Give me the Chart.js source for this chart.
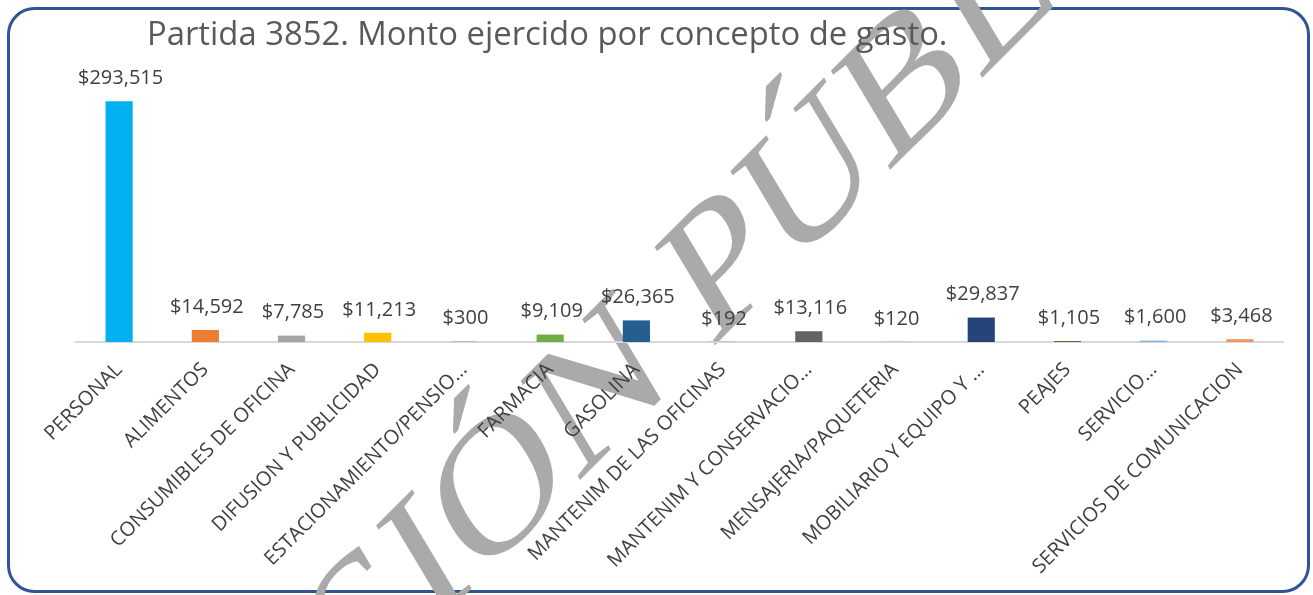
<!DOCTYPE html>
<html>
<head>
<meta charset="utf-8">
<script src="https://cdn.jsdelivr.net/npm/chart.js@4.4.1/dist/chart.umd.min.js"></script>
<style>
  html, body { margin: 0; padding: 0; background: #fff; }
  #wrap { width: 1313px; height: 595px; }
</style>
</head>
<body>
<div id="wrap"><canvas id="grafico" width="1313" height="595"></canvas></div>
<script>
const titulo = "Partida 3852. Monto ejercido por concepto de gasto.";
const marcaAgua = "VERSIÓN PÚBLICA";

const conceptos = [
    "PERSONAL",
    "ALIMENTOS",
    "CONSUMIBLES DE OFICINA",
    "DIFUSION Y PUBLICIDAD",
    "ESTACIONAMIENTO/PENSIO…",
    "FARMACIA",
    "GASOLINA",
    "MANTENIM DE LAS OFICINAS",
    "MANTENIM Y CONSERVACIO…",
    "MENSAJERIA/PAQUETERIA",
    "MOBILIARIO Y EQUIPO Y …",
    "PEAJES",
    "SERVICIO…",
    "SERVICIOS DE COMUNICACION"
];

const montos = [293515, 14592, 7785, 11213, 300, 9109, 26365, 192, 13116, 120, 29837, 1105, 1600, 3468];

const colores = [
    "#00B0F0", "#ED7D31", "#A5A5A5", "#FFC000", "#4472C4", "#70AD47", "#255E91",
    "#9E480E", "#636363", "#997300", "#264478", "#43682B", "#7CAFDD", "#F1975A"
];

// marco, marca de agua y titulo
const fondo = {
    id: "fondo",
    beforeDraw(chart) {
        const ctx = chart.ctx;
        ctx.save();
        ctx.fillStyle = "#fff";
        ctx.fillRect(0, 0, chart.width, chart.height);

        ctx.strokeStyle = "#2F5597";
        ctx.lineWidth = 3;
        ctx.beginPath();
        ctx.roundRect(8.5, 8.5, 1300, 583, 26);
        ctx.stroke();

        // la marca va inclinada y un poco achatada, como en el documento
        ctx.font = "195px 'Liberation Serif'";
        const antes = ctx.measureText("VERSIÓN ").width;
        ctx.setTransform(0.707, -0.707, 0.465, 0.775, 710, 350);
        ctx.fillStyle = "#AAAAAA";
        ctx.textAlign = "left";
        ctx.textBaseline = "alphabetic";
        ctx.fillText(marcaAgua, -antes, 0);
        ctx.setTransform(1, 0, 0, 1, 0, 0);

        ctx.fillStyle = "#595959";
        ctx.font = "32.8px 'Open Sans'";
        ctx.fillText(titulo, 147, 45);
        ctx.restore();
    }
};

const etiquetas = {
    id: "etiquetas",
    afterDatasetsDraw(chart) {
        const ctx = chart.ctx;
        const meta = chart.getDatasetMeta(0);
        ctx.save();
        ctx.fillStyle = "#404040";
        ctx.font = "20px 'Open Sans'";
        ctx.textAlign = "center";
        ctx.textBaseline = "middle";
        meta.data.forEach((barra, i) => {
            ctx.fillText("$" + montos[i].toLocaleString("en-US"), barra.x + 1.5, barra.y - 23);
        });
        ctx.restore();
    }
};

function dibujar() {
    new Chart(document.getElementById("grafico"), {
        type: "bar",
        data: {
            labels: conceptos,
            datasets: [{
                data: montos,
                backgroundColor: colores,
                barPercentage: 0.315,
                categoryPercentage: 1
            }]
        },
        options: {
            responsive: false,
            animation: false,
            layout: { padding: { left: 76, right: 30, top: 55, bottom: 0 } },
            plugins: {
                legend: { display: false },
                tooltip: { enabled: false }
            },
            scales: {
                x: {
                    grid: { display: false, drawTicks: false },
                    border: { display: true, color: "#D9D9D9", width: 2 },
                    ticks: {
                        color: "#404040",
                        font: { family: "Open Sans", size: 20 },
                        minRotation: 45,
                        maxRotation: 45,
                        padding: 16,
                        autoSkip: false
                    },
                    afterFit(escala) { escala.height = 253; }
                },
                y: { display: false, min: 0, max: 350000 }
            }
        },
        plugins: [fondo, etiquetas]
    });
}

Promise.all([
    document.fonts.load("20px 'Open Sans'"),
    document.fonts.load("195px 'Liberation Serif'")
]).then(dibujar, dibujar);
</script>
</body>
</html>
